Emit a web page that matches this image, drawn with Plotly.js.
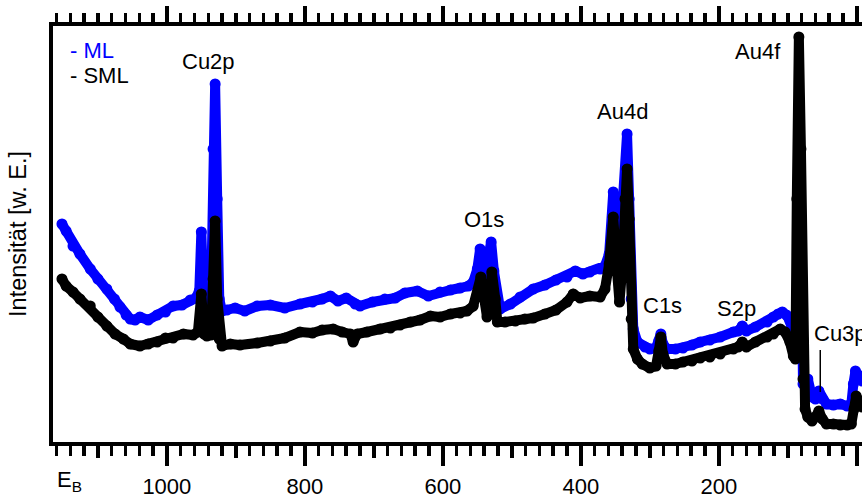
<!DOCTYPE html>
<html>
<head>
<meta charset="utf-8">
<script src="https://cdn.plot.ly/plotly-3.0.1.min.js"></script>
<style>
  html, body { margin: 0; padding: 0; background: #fff; }
  #chart { width: 862px; height: 497px; }
  .scatterlayer .js-line { stroke-linejoin: round; stroke-linecap: round; }
</style>
</head>
<body>
<div id="chart"></div>
<script>
// Binding energy (eV) and intensity (arb. units)
const energyML = [1152,1146,1136,1126,1111,1100,1087,1076,1068,1059,1053,1046,1039,1027,1014,1002,991,978,966,958,953,950,947,942,936,933,930,927,924,920,913,901,887,869,850,829,807,789,775,763,752,740,727,720,702,684,669,655,637,621,604,589,575,563,556,550,546,542,539,536,530,526,521,517,502,488,469,452,436,420,408,397,387,372,365,359,353,349,344,339,333,330,327,324,318,307,300,291,287,284,281,275,263,252,239,227,213,198,179,172,166,160,147,130,121,114,108,102,97,92,86,82,78,73,71,65,60,55,50,44,34,24,14,8,5,2,-2,-8];
const intensityML = [218,211,196,188,173,163,153,143,135,127,123,122,125,122,127,130,136,137,142,144,151,210,145,138,143,293,358,243,143,131,132,134,131,136,137,134,138,140,143,146,141,144,138,136,140,143,144,149,151,146,150,152,154,156,160,173,193,185,168,181,200,171,143,133,138,145,153,157,162,165,171,168,170,173,176,188,250,203,161,243,308,243,143,113,100,95,93,94,101,108,98,93,93,94,97,100,102,105,110,111,116,111,115,120,125,128,130,127,121,106,112,280,58,60,63,45,43,51,43,38,37,38,36,38,58,71,67,61];

const energySML = [1152,1146,1136,1126,1111,1100,1087,1075,1063,1053,1039,1027,1014,1002,991,976,962,955,950,946,942,936,933,930,927,924,920,908,894,869,850,829,807,789,775,759,746,734,730,724,710,691,676,662,647,633,618,604,589,575,565,556,550,545,540,536,531,529,524,521,510,495,481,469,452,436,420,411,401,387,372,365,359,353,349,344,340,336,333,330,327,324,318,311,300,291,287,284,281,275,263,252,239,227,213,198,179,172,166,160,147,130,121,111,104,97,92,89,87,84,81,78,75,71,65,60,55,50,44,34,24,14,8,4,1,-3,-8];
const intensitySML = [163,156,150,143,136,125,116,108,103,98,96,98,100,104,104,108,107,110,148,108,106,107,163,221,143,103,96,98,97,99,101,104,110,109,112,113,110,108,100,108,110,113,114,117,120,122,126,125,128,129,131,136,148,165,143,125,153,170,143,120,120,121,123,124,128,132,140,148,144,146,145,153,178,225,183,140,173,243,273,223,123,93,83,78,74,76,91,105,88,78,78,80,81,84,85,88,93,95,100,95,100,105,108,113,110,100,86,83,243,405,293,63,33,25,21,25,31,23,18,18,17,17,18,33,46,41,35];

const seriesNames = ['ML', 'SML'];
const seriesColors = ['#0000ff', '#000000'];
const majorTicks = [1000, 800, 600, 400, 200, 0];
const peakLabels = ['Cu2p', 'O1s', 'Au4d', 'Au4f', 'C1s', 'S2p', 'Cu3p'];
const peakLabelE = [939, 540, 339, 143, 282, 175, 65];
const peakLabelI = [381, 223, 331, 391, 137, 134, 109];
const cu3pLeaderE = 53;
const cu3pLeaderI = [92, 50];

const FONT = 'Arial, "Liberation Sans", Helvetica, sans-serif';
const XR = [1165, -7.5];

const traces = [
  {x: energyML, y: intensityML, name: seriesNames[0], mode: 'lines+markers',
   line: {color: seriesColors[0], width: 10}, marker: {color: seriesColors[0], size: 11},
   showlegend: false, hoverinfo: 'skip'},
  {x: energySML, y: intensitySML, name: seriesNames[1], mode: 'lines+markers',
   line: {color: seriesColors[1], width: 10}, marker: {color: seriesColors[1], size: 11},
   showlegend: false, hoverinfo: 'skip'},
  {x: [], y: [], xaxis: 'x2', showlegend: false},
  {x: [], y: [], xaxis: 'x3', showlegend: false},
  {x: [], y: [], xaxis: 'x4', showlegend: false}
];

const peakAnn = peakLabels.map((t, i) => ({
  text: t, x: peakLabelE[i], y: peakLabelI[i], xref: 'x', yref: 'y',
  showarrow: false, xanchor: t === 'Cu3p' ? 'left' : 'center', yanchor: 'middle',
  font: {family: FONT, size: 22, color: '#000'}
}));

const legendAnn = [
  {text: '- ' + seriesNames[0], x: 0.0185, y: 0.942, xref: 'paper', yref: 'paper',
   showarrow: false, xanchor: 'left', yanchor: 'middle',
   font: {family: FONT, size: 22, color: seriesColors[0]}},
  {text: '- ' + seriesNames[1], x: 0.0185, y: 0.882, xref: 'paper', yref: 'paper',
   showarrow: false, xanchor: 'left', yanchor: 'middle',
   font: {family: FONT, size: 22, color: seriesColors[1]}},
  {text: 'E<sub>B</sub>', x: 0.0025, y: -0.094, xref: 'paper', yref: 'paper',
   showarrow: false, xanchor: 'left', yanchor: 'middle',
   font: {family: FONT, size: 22, color: '#000'}}
];

const baseX = {
  range: XR, showgrid: false, zeroline: false, fixedrange: true
};

const layout = {
  width: 862, height: 497,
  margin: {l: 53, r: 0, t: 26, b: 55, pad: 0},
  paper_bgcolor: '#ffffff', plot_bgcolor: '#ffffff',
  font: {family: FONT, size: 22, color: '#000'},
  showlegend: false,
  xaxis: Object.assign({}, baseX, {
    anchor: 'y', side: 'bottom',
    showline: true, linewidth: 4, linecolor: '#000',
    ticks: 'outside', ticklen: 20, tickwidth: 4, tickcolor: '#000',
    tickmode: 'array', tickvals: majorTicks, ticktext: majorTicks.map(String),
    ticklabelstandoff: 2,
    tickfont: {family: FONT, size: 22, color: '#000'},
    minor: {tick0: 0, dtick: 20, ticks: 'outside', ticklen: 10, tickwidth: 3.5, tickcolor: '#000', showgrid: false}
  }),
  xaxis2: Object.assign({}, baseX, {
    anchor: 'y', overlaying: 'x', side: 'bottom', showline: false,
    ticks: 'outside', tick0: 100, dtick: 200, ticklen: 15, tickwidth: 3.5, tickcolor: '#000',
    showticklabels: false
  }),
  xaxis3: Object.assign({}, baseX, {
    anchor: 'y', overlaying: 'x', side: 'top',
    showline: true, linewidth: 4, linecolor: '#000',
    ticks: 'outside', tick0: 0, dtick: 200, ticklen: 16, tickwidth: 4, tickcolor: '#000',
    showticklabels: false,
    minor: {tick0: 0, dtick: 20, ticks: 'outside', ticklen: 9, tickwidth: 3.5, tickcolor: '#000', showgrid: false}
  }),
  xaxis4: Object.assign({}, baseX, {
    anchor: 'y', overlaying: 'x', side: 'top', showline: false,
    ticks: 'outside', tick0: 100, dtick: 200, ticklen: 12, tickwidth: 3.5, tickcolor: '#000',
    showticklabels: false
  }),
  yaxis: {
    range: [0, 416], showgrid: false, zeroline: false, fixedrange: true,
    showline: true, linewidth: 4, linecolor: '#000',
    ticks: '', showticklabels: false,
    title: {text: 'Intensität [w. E.]', font: {family: FONT, size: 23.5, color: '#000'}, standoff: 17}
  },
  annotations: peakAnn.concat(legendAnn),
  shapes: [
    {type: 'line', xref: 'x', yref: 'y', x0: cu3pLeaderE, x1: cu3pLeaderE,
     y0: cu3pLeaderI[0], y1: cu3pLeaderI[1], line: {color: '#000', width: 1.5}}
  ]
};

Plotly.newPlot('chart', traces, layout, {displayModeBar: false, staticPlot: true});
</script>
</body>
</html>
